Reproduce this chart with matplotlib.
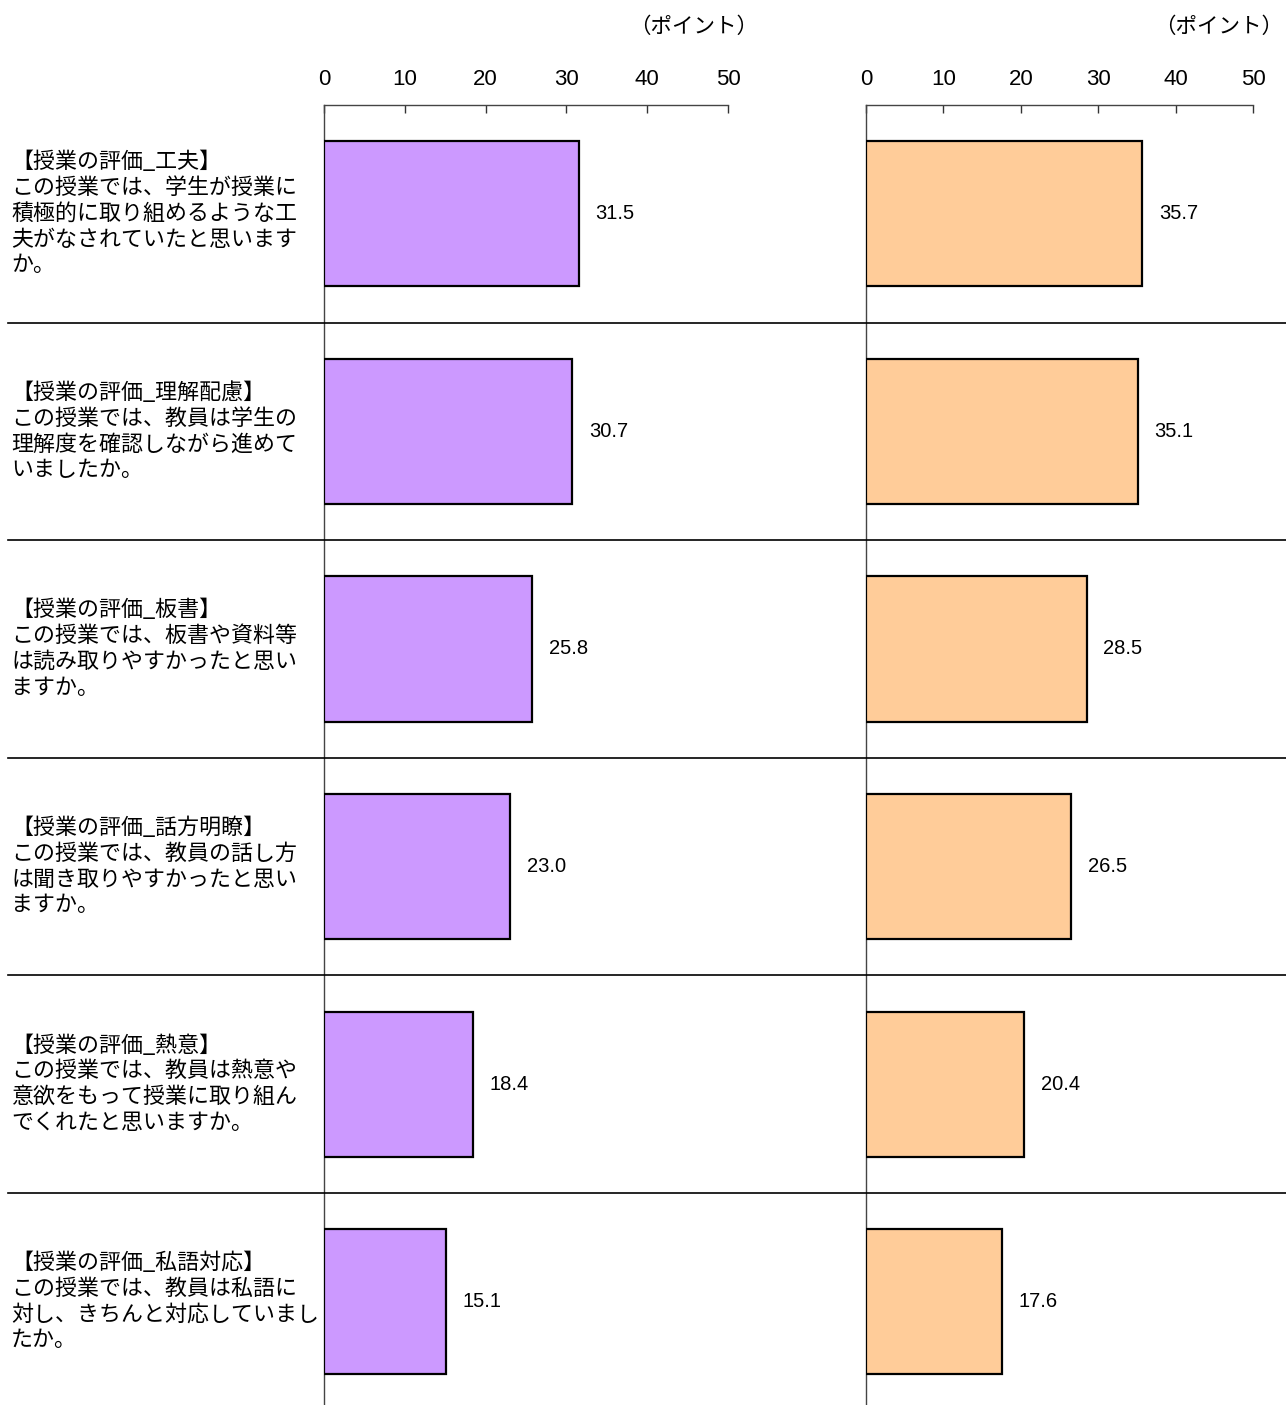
import matplotlib
matplotlib.use('Agg')
import matplotlib.pyplot as plt
from matplotlib.transforms import blended_transform_factory

plt.rcParams['font.family'] = ['Noto Sans CJK JP', 'DejaVu Sans']
num_font = ['Liberation Sans', 'DejaVu Sans']

labels = [
    '【授業の評価_工夫】\nこの授業では、学生が授業に\n積極的に取り組めるような工\n夫がなされていたと思います\nか。',
    '【授業の評価_理解配慮】\nこの授業では、教員は学生の\n理解度を確認しながら進めて\nいましたか。',
    '【授業の評価_板書】\nこの授業では、板書や資料等\nは読み取りやすかったと思い\nますか。',
    '【授業の評価_話方明瞭】\nこの授業では、教員の話し方\nは聞き取りやすかったと思い\nますか。',
    '【授業の評価_熱意】\nこの授業では、教員は熱意や\n意欲をもって授業に取り組ん\nでくれたと思いますか。',
    '【授業の評価_私語対応】\nこの授業では、教員は私語に\n対し、きちんと対応していまし\nたか。',
]
left_vals = [31.5, 30.7, 25.8, 23.0, 18.4, 15.1]
right_vals = [35.7, 35.1, 28.5, 26.5, 20.4, 17.6]
ticks = [0, 10, 20, 30, 40, 50]
unit = '（ポイント）'

W, H = 1286, 1405
fig = plt.figure(figsize=(W / 100, H / 100), dpi=100)

row_px = 217.6
top_px = 105
ax_h = H - top_px
ymax = -0.5 + ax_h / row_px

ax1 = fig.add_axes([324 / W, 0, 404 / W, ax_h / H])
ax2 = fig.add_axes([866 / W, 0, 387 / W, ax_h / H])

rows = list(range(len(labels)))
for ax, vals, color in [(ax1, left_vals, '#cc99ff'), (ax2, right_vals, '#ffcc99')]:
    ax.patch.set_visible(False)
    ax.barh(rows, vals, height=0.667, color=color, edgecolor='black',
            linewidth=1.6, zorder=3)
    ax.set_xlim(0, 50)
    ax.set_ylim(ymax, -0.5)
    ax.set_xticks(ticks)
    ax.xaxis.tick_top()
    ax.tick_params(axis='x', direction='in', length=6, width=1, pad=11,
                   labelsize=16, color='#333333')
    for t in ax.get_xticklabels():
        t.set_fontfamily(num_font)
    ax.set_yticks([])
    for s in ['right', 'bottom']:
        ax.spines[s].set_visible(False)
    for s in ['top', 'left']:
        ax.spines[s].set_color('#444444')
        ax.spines[s].set_linewidth(1)
    for r, v in zip(rows, vals):
        ax.annotate(f'{v:.1f}', xy=(v, r), xytext=(12, 0), textcoords='offset points',
                    va='center', ha='left', fontsize=14.5, family=num_font)
    ax.annotate(unit, xy=(1, 1), xycoords='axes fraction', xytext=(22, 56),
                textcoords='offset points', ha='right', va='center', fontsize=15.5)

# row separators across the whole width, drawn on a transparent overlay
over = fig.add_axes([0, 0, 1, ax_h / H], sharey=ax1)
over.set_axis_off()
over.set_xlim(0, W)
for k in range(len(labels) - 1):
    over.plot([8, W], [k + 0.5, k + 0.5], color='black', linewidth=1.2,
              clip_on=False)

tr = blended_transform_factory(fig.transFigure, ax1.transData)
for r, lab in zip(rows, labels):
    ax1.text(11 / W, r, lab, transform=tr, ha='left', va='center',
             fontsize=15.8, linespacing=1.22)

fig.savefig('out.png', dpi=100)
